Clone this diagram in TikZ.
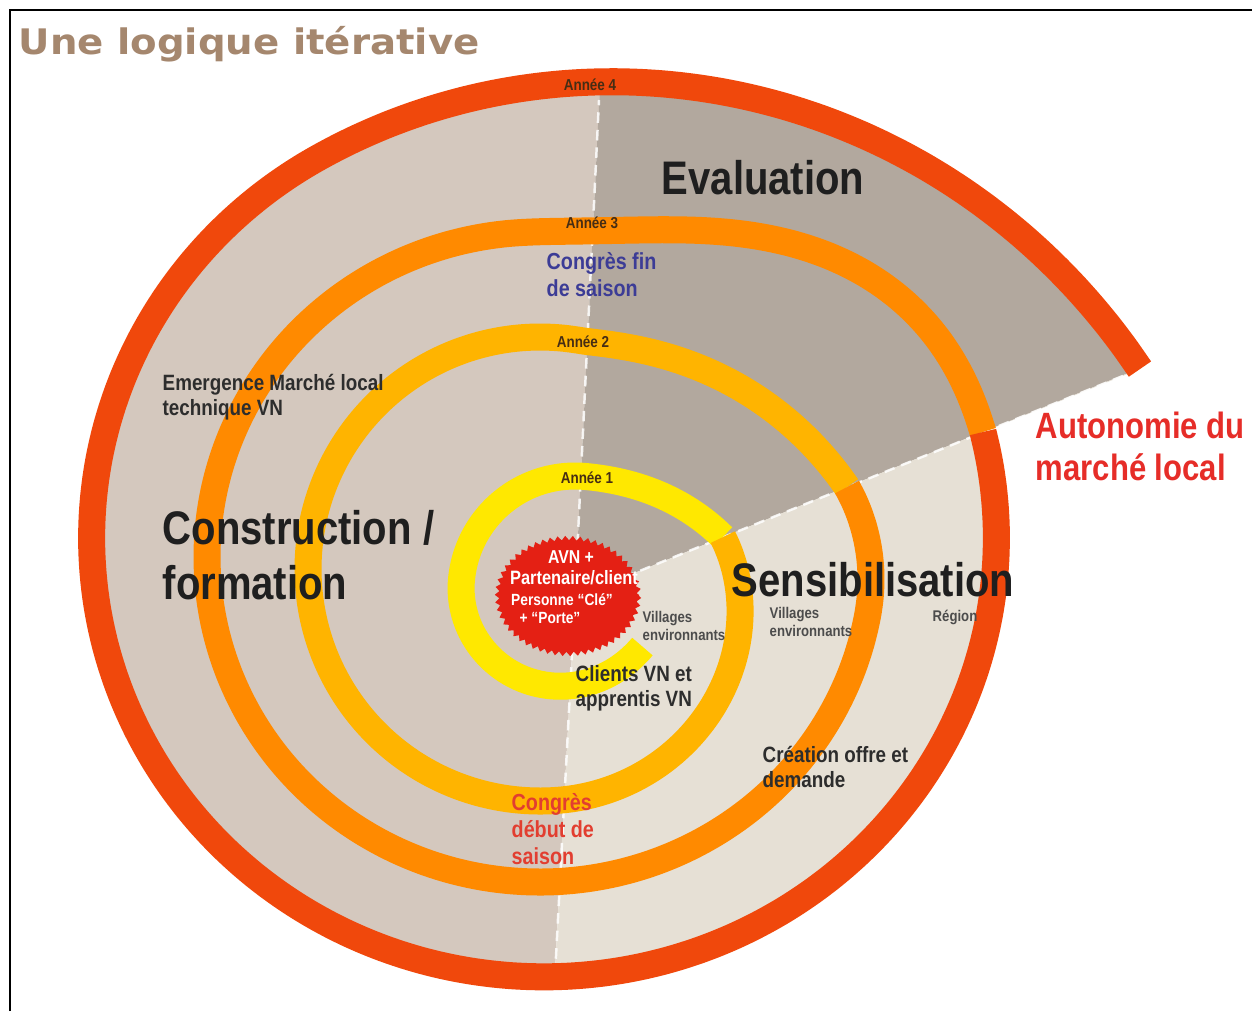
\documentclass[tikz,border=0pt]{standalone}
\usepackage{fontspec}
\setmainfont{Liberation Sans}
\newfontfamily\condfont[FakeStretch=0.85]{Liberation Sans}
\newfontfamily\titlefont[FakeStretch=1.1]{DejaVu Sans}
\usetikzlibrary{decorations.pathmorphing}

\definecolor{yearone}{RGB}{255,232,0}
\definecolor{yeartwo}{RGB}{255,180,0}
\definecolor{yearthree}{RGB}{255,138,0}
\definecolor{yearfour}{RGB}{240,72,12}
\definecolor{buildfill}{RGB}{212,200,190}
\definecolor{evalfill}{RGB}{178,168,158}
\definecolor{sensfill}{RGB}{230,224,213}
\definecolor{titlebrown}{RGB}{165,135,110}
\definecolor{congblue}{RGB}{60,60,150}
\definecolor{congred}{RGB}{226,62,48}
\definecolor{autored}{RGB}{230,45,40}
\definecolor{burstred}{RGB}{228,32,20}
\definecolor{labelgray}{RGB}{45,45,45}
\definecolor{yearink}{RGB}{70,45,20}

% radius of each year's turn, as a function of the angle
\tikzset{
  declare function={
    clamp(\x)=min(1,max(0,\x));
    sq(\x)=\x*\x;
    tp(\x)=\x*sqrt(\x);
    sstep(\x)=\x*\x*(3-2*\x);
    ssstep(\x)=\x*\x*\x*(\x*(6*\x-15)+10);
    rone(\x)=88+26*sstep(clamp((\x-40)/145))+43*sq(clamp((\x-275)/65.3));
    rtwo(\x)=232-46.4*sq(clamp((85-\x)/94.9))+85.8*tp(clamp((\x-280)/65.05));
    rthree(\x)=333-17.7*sq(clamp((10-\x)/23.15))+128.1*ssstep(clamp((\x-265)/78.87));
    rfour(\x)=452.4+168.5*sq(clamp((\x-240)/103.71));
  },
  ring/.style={line width=2.7mm},
  divider/.style={white, line width=0.7pt, dash pattern=on 3pt off 2pt, opacity=0.85},
  yearlabel/.style={font={\condfont\bfseries\fontsize{4.5}{5}\selectfont}, text=yearink, inner sep=0pt},
  phase/.style={font={\condfont\bfseries\fontsize{13.4}{15.4}\selectfont}, text=black!88, inner sep=0pt, align=left},
  note/.style={font={\condfont\bfseries\fontsize{6.3}{7.1}\selectfont}, text=labelgray, inner sep=0pt, align=left},
  smallnote/.style={font={\condfont\bfseries\fontsize{4.4}{5}\selectfont}, text=labelgray!85, inner sep=0pt, align=left},
  congres/.style={font={\condfont\bfseries\fontsize{6.6}{7.7}\selectfont}, inner sep=0pt, align=left},
  burst/.style={text=white, inner sep=0pt},
}

% last turn of the spiral, also the outline of the coloured sectors
\newcommand\outerturn{plot[smooth, samples=150, domain=-13.98:343.71, variable=\t]
  ({544+rfour(\t)*cos(\t)}, {538+0.97*rfour(\t)*sin(\t)})}

\begin{document}
\begin{tikzpicture}[x=0.01cm, y=-0.01cm]
\useasboundingbox (0,0) rectangle (1252,1011);
\fill[white] (0,0) rectangle (1252,1011);
\draw[line width=0.6pt] (10,1011) -- (10,10) -- (1252,10);

\coordinate (apex) at (575,597);
\coordinate (topend) at (599,100);
\coordinate (botend) at (555,975);
\coordinate (spiralend) at (1140,369);
\coordinate (fartop) at (609,-100);
\coordinate (farbot) at (548,1100);
\coordinate (farright) at (1400,263);

% three sectors inside the spiral
\begin{scope}
  \clip \outerturn -- cycle;
  \fill[buildfill] (apex) -- (farbot) -- (-100,1100) -- (-100,-100) -- (fartop) -- cycle;
  \fill[evalfill] (apex) -- (fartop) -- (1400,-100) -- (farright) -- cycle;
  \fill[sensfill] (apex) -- (farright) -- (1400,1100) -- (farbot) -- cycle;
\end{scope}
\draw[divider] (apex) -- (topend);
\draw[divider] (apex) -- (botend);
\draw[divider] (apex) -- (spiralend);

% the spiral, one colour per year
\draw[ring, yearone] plot[smooth, samples=120, domain=40:340.3, variable=\t]
  ({575+rone(\t)*cos(\t)}, {590+rone(\t)*sin(\t)});
\draw[ring, yeartwo] plot[smooth, samples=140, domain=-9.9:345.05, variable=\t]
  ({540+rtwo(\t)*cos(\t)}, {569+rtwo(\t)*sin(\t)});
\draw[ring, yearthree] plot[smooth, samples=140, domain=-13.15:343.87, variable=\t]
  ({540+rthree(\t)*cos(\t)}, {557+0.976*rthree(\t)*sin(\t)});
\draw[ring, yearfour] \outerturn;

\fill[burstred, decorate, decoration={zigzag, segment length=0.075cm, amplitude=0.022cm}]
  (568,596) ellipse (71 and 58);

% titles and labels
\node[anchor=base west, inner sep=0pt, text=titlebrown,
  font={\titlefont\bfseries\fontsize{10}{12}\selectfont}] (title) at (18,54) {Une logique itérative};

\node[yearlabel] (an4) at (590,85) {Année 4};
\node[yearlabel] (an3) at (592,223) {Année 3};
\node[yearlabel] (an2) at (583,342) {Année 2};
\node[yearlabel] (an1) at (587,478) {Année 1};

\node[phase] (evaluation) at (763,178) {Evaluation};
\node[phase, anchor=north west] (construction) at (162,510) {Construction /\\formation};
\node[phase] (sensibilisation) at (873,580) {Sensibilisation};

\node[congres, text=congblue, anchor=north west] (congfin) at (546,252) {Congrès fin\\de saison};
\node[congres, text=congred, anchor=north west] (congdebut) at (511,793) {Congrès\\début de\\saison};
\node[note, anchor=north west] (emergence) at (162,374) {Emergence Marché local\\technique VN};
\node[note, anchor=north west] (clients) at (575,665) {Clients VN et\\apprentis VN};
\node[note, anchor=north west] (creation) at (762,746) {Création offre et\\demande};
\node[smallnote, anchor=north west] (villagesa) at (642,611) {Villages\\environnants};
\node[smallnote, anchor=north west] (villagesb) at (769,607) {Villages\\environnants};
\node[smallnote] (region) at (955,617) {Région};

\node[anchor=north west, inner sep=0pt, align=left, text=autored,
  font={\condfont\bfseries\fontsize{10.4}{12}\selectfont}] (autonomie) at (1035,411) {Autonomie du\\marché local};

\node[burst, font={\condfont\bfseries\fontsize{5.3}{6}\selectfont}] (avn) at (571,557) {AVN +};
\node[burst, font={\condfont\bfseries\fontsize{5.5}{6}\selectfont}] (partenaire) at (574,578) {Partenaire/client};
\node[burst, font={\condfont\bfseries\fontsize{4.6}{5}\selectfont}] (personne) at (562,600) {Personne “Clé”};
\node[burst, font={\condfont\bfseries\fontsize{4.6}{5}\selectfont}] (porte) at (550,618) {+ “Porte”};
\end{tikzpicture}
\end{document}
